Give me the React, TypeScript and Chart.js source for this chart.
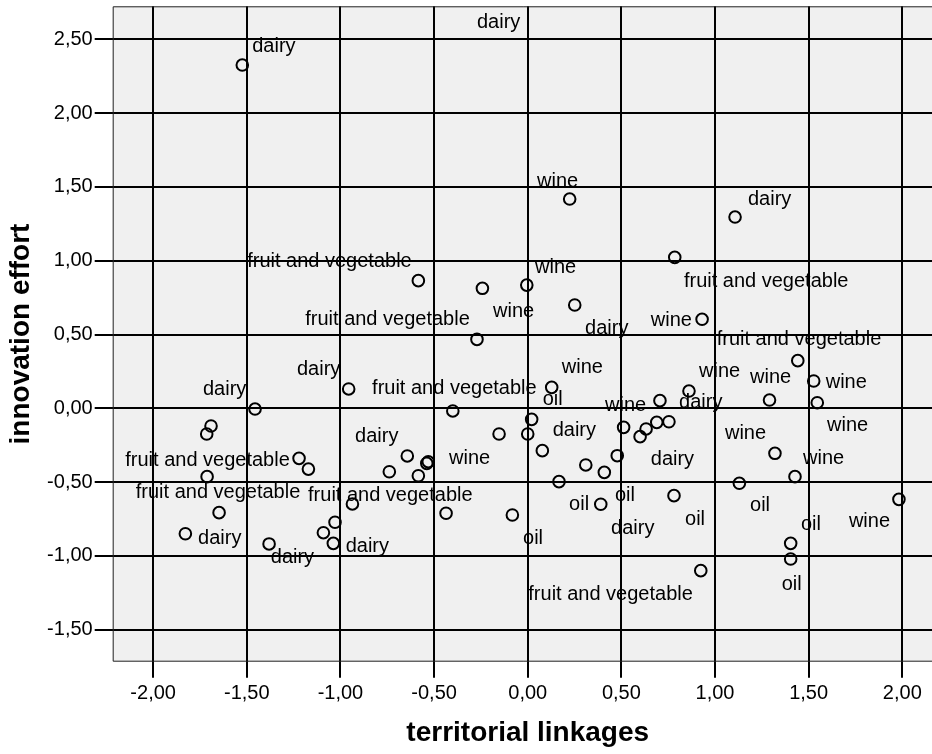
import React, { useEffect, useRef } from 'react';
import { Chart, registerables } from 'chart.js';

Chart.register(...registerables);

// territorial linkages (x) and innovation effort (y) for each case
const territorialLinkages = [
  -1.524, 0.224, 1.107, -0.584, -0.242, -0.005, 0.785, 0.251, 0.931, -0.271,
  1.442, -0.956, 1.527, 0.128, 0.861, 0.706, 1.291, 1.546, -1.456, -0.400,
  -1.691, -1.714, -0.153, 0.0, 0.021, 0.512, 0.632, 0.689, 0.754, 0.600,
  0.078, -1.221, -1.171, -1.712, -0.643, -0.739, -0.531, -0.539, -0.584, -1.648,
  -1.828, -1.381, -0.936, -1.029, -1.091, -1.038, -0.436, -0.082, 0.167, 0.310,
  0.409, 0.478, 0.390, 0.781, 1.320, 1.427, 1.130, 1.982, 1.404, 1.404,
  0.924,
];
const innovationEffort = [
  2.326, 1.418, 1.296, 0.865, 0.813, 0.835, 1.023, 0.700, 0.603, 0.467,
  0.323, 0.131, 0.185, 0.142, 0.117, 0.052, 0.056, 0.038, -0.005, -0.018,
  -0.120, -0.174, -0.174, -0.174, -0.075, -0.129, -0.140, -0.095, -0.091, -0.192,
  -0.287, -0.339, -0.412, -0.463, -0.323, -0.430, -0.362, -0.373, -0.457, -0.707,
  -0.850, -0.919, -0.648, -0.772, -0.843, -0.915, -0.711, -0.723, -0.497, -0.384,
  -0.434, -0.321, -0.650, -0.592, -0.305, -0.463, -0.508, -0.617, -0.915, -1.021,
  -1.100,
];

// case labels (sector), anchored at their left edge / vertical middle, in data units
const labelText = [
  'dairy', 'dairy', 'wine', 'dairy', 'fruit and vegetable', 'wine', 'fruit and vegetable',
  'fruit and vegetable', 'wine', 'dairy', 'wine', 'fruit and vegetable', 'dairy', 'wine',
  'dairy', 'fruit and vegetable', 'wine', 'wine', 'wine', 'oil', 'wine', 'dairy',
  'dairy', 'dairy', 'wine', 'wine', 'fruit and vegetable', 'wine', 'dairy', 'wine',
  'fruit and vegetable', 'fruit and vegetable', 'oil', 'oil', 'oil', 'dairy', 'oil', 'oil',
  'wine', 'dairy', 'dairy', 'dairy', 'oil', 'oil', 'fruit and vegetable',
];
const labelX = [
  -0.271, -1.471, 0.050, 1.176, -1.498, 0.039, 0.834,
  -1.188, -0.185, 0.306, 0.657, 1.009, -1.232, 0.182,
  -1.734, -0.831, 0.915, 1.187, 1.591, 0.080, 0.413, 0.808,
  -0.922, 0.133, 1.053, 1.598, -2.149, -0.420, 0.657, 1.470,
  -2.093, -1.173, 0.221, 0.466, 0.840, 0.445, 1.187, 1.459,
  1.715, -1.760, -0.972, -1.372, -0.025, 1.356, 0.003,
];
const labelY = [
  2.618, 2.461, 1.547, 1.425, 1.000, 0.964, 0.869,
  0.612, 0.666, 0.549, 0.603, 0.474, 0.273, 0.282,
  0.136, 0.140, 0.259, 0.214, 0.185, 0.068, 0.029, 0.045,
  -0.181, -0.142, -0.163, -0.113, -0.346, -0.332, -0.343, -0.332,
  -0.565, -0.587, -0.644, -0.581, -0.745, -0.806, -0.655, -0.779,
  -0.762, -0.874, -0.931, -1.001, -0.874, -1.186, -1.253,
];

const xTicks = [-2, -1.5, -1, -0.5, 0, 0.5, 1, 1.5, 2];
const xTickLabels = ['-2,00', '-1,50', '-1,00', '-0,50', '0,00', '0,50', '1,00', '1,50', '2,00'];
const yTicks = [-1.5, -1, -0.5, 0, 0.5, 1, 1.5, 2, 2.5];
const yTickLabels = ['-1,50', '-1,00', '-0,50', '0,00', '0,50', '1,00', '1,50', '2,00', '2,50'];

const xTitle = 'territorial linkages';
const yTitle = 'innovation effort';

const X_MIN = -2.216;
const X_MAX = 2.1586;
const Y_MIN = -1.717;
const Y_MAX = 2.724;

const FONT = '"Liberation Sans", Arial, Helvetica, sans-serif';

const decorPlugin = {
  id: 'decor',
  beforeDraw(chart: any) {
    const { ctx, chartArea } = chart;
    ctx.save();
    ctx.fillStyle = '#f0f0f0';
    ctx.fillRect(chartArea.left, chartArea.top, chartArea.right - chartArea.left, chartArea.bottom - chartArea.top);
    ctx.restore();
  },
  afterDatasetsDraw(chart: any) {
    const { ctx, scales } = chart;
    const xs = scales.x;
    const ys = scales.y;
    ctx.save();
    ctx.font = `20px ${FONT}`;
    ctx.fillStyle = '#000';
    ctx.textAlign = 'left';
    ctx.textBaseline = 'middle';
    labelText.forEach((t, i) => {
      ctx.fillText(t, xs.getPixelForValue(labelX[i]), ys.getPixelForValue(labelY[i]) + 1);
    });
    ctx.restore();
  },
  afterDraw(chart: any) {
    const { ctx, chartArea, scales } = chart;
    ctx.save();
    ctx.strokeStyle = '#222';
    ctx.lineWidth = 1;
    ctx.beginPath();
    ctx.moveTo(chartArea.right + 5, chartArea.top + 0.5);
    ctx.lineTo(chartArea.left + 0.5, chartArea.top + 0.5);
    ctx.lineTo(chartArea.left + 0.5, chartArea.bottom - 0.5);
    ctx.lineTo(chartArea.right + 5, chartArea.bottom - 0.5);
    ctx.stroke();

    ctx.fillStyle = '#000';
    ctx.font = `bold 28px ${FONT}`;
    ctx.textAlign = 'center';
    ctx.textBaseline = 'alphabetic';
    ctx.fillText(xTitle, scales.x.getPixelForValue(0), 741);

    ctx.translate(29, (chartArea.top + chartArea.bottom) / 2);
    ctx.rotate(-Math.PI / 2);
    ctx.fillText(yTitle, 0, 0);
    ctx.restore();
  },
};

export default function App() {
  const canvasRef = useRef<HTMLCanvasElement | null>(null);

  useEffect(() => {
    const canvas = canvasRef.current;
    if (!canvas) return;
    const points = territorialLinkages.map((x, i) => ({ x, y: innovationEffort[i] }));
    const chart = new Chart(canvas, {
      type: 'scatter',
      data: {
        datasets: [
          {
            data: points,
            pointRadius: 5.8,
            pointHoverRadius: 5.8,
            borderWidth: 2,
            pointBorderWidth: 2,
            borderColor: '#000',
            backgroundColor: 'rgba(0,0,0,0)',
          },
        ],
      },
      options: {
        animation: false,
        responsive: false,
        events: [],
        layout: { autoPadding: false, padding: { top: 6.3, left: 0, right: 0, bottom: 0 } },
        plugins: { legend: { display: false }, tooltip: { enabled: false } },
        scales: {
          x: {
            type: 'linear',
            position: 'bottom',
            min: X_MIN,
            max: X_MAX,
            afterBuildTicks: (s: any) => {
              s.ticks = xTicks.map((v) => ({ value: v }));
            },
            afterFit: (s: any) => {
              s.height = 92.3;
              s.paddingLeft = 0;
              s.paddingRight = 0;
            },
            grid: { color: '#000', lineWidth: 2, tickLength: 16, drawTicks: true },
            border: { display: false },
            ticks: {
              autoSkip: false,
              maxRotation: 0,
              padding: 4,
              color: '#000',
              font: { family: FONT, size: 20 },
              callback: (_v: any, i: number) => xTickLabels[i],
            },
          },
          y: {
            type: 'linear',
            position: 'left',
            min: Y_MIN,
            max: Y_MAX,
            afterBuildTicks: (s: any) => {
              s.ticks = yTicks.map((v) => ({ value: v }));
            },
            afterFit: (s: any) => {
              s.width = 112.7;
              s.paddingTop = 0;
              s.paddingBottom = 0;
            },
            grid: { color: '#000', lineWidth: 2, tickLength: 18, drawTicks: true },
            border: { display: false },
            ticks: {
              autoSkip: false,
              padding: 2,
              color: '#000',
              font: { family: FONT, size: 20 },
              callback: (_v: any, i: number) => yTickLabels[i],
            },
          },
        },
      },
      plugins: [decorPlugin],
    });
    return () => chart.destroy();
  }, []);

  return (
    <div style={{ position: 'absolute', left: 0, top: 0, width: 932, height: 754, overflow: 'hidden', background: '#fff' }}>
      <canvas ref={canvasRef} width={932} height={754} style={{ display: 'block' }} />
    </div>
  );
}
